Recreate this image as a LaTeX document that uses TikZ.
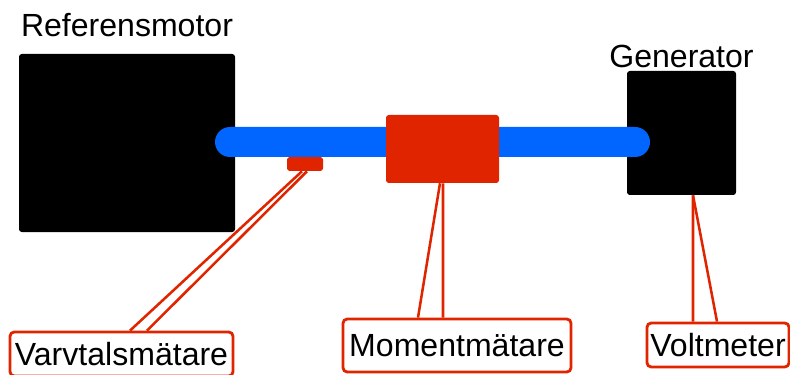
\documentclass[tikz,border=0pt]{standalone}
\usepackage{fontspec}
\setmainfont{Liberation Sans}
\usepackage{tikz}
\usetikzlibrary{positioning}
\definecolor{shaftblue}{RGB}{0,102,255}
\definecolor{partred}{RGB}{224,36,0}
\tikzset{machine/.style={fill=black, draw=none, rounded corners=2pt, inner sep=0pt}}
\tikzset{meter/.style={fill=partred, draw=none, rounded corners=2pt, inner sep=0pt}}
\tikzset{tag/.style={draw=partred, line width=2pt, fill=white, rounded corners=3pt, inner sep=0pt, font=\fontsize{22.8pt}{27pt}\selectfont}}
\tikzset{lead/.style={draw=partred, line width=1.8pt}}
\tikzset{title/.style={inner sep=0pt, font=\fontsize{22.8pt}{27pt}\selectfont}}

\begin{document}
\begin{tikzpicture}
\useasboundingbox (0,0) rectangle (19.75,9.35);
\node[machine, minimum width=5.4cm, minimum height=4.45cm] (motor) at (3.175,5.775) {};
\node[machine, minimum width=2.725cm, minimum height=3.1cm] (gen) at (17.0375,6.025) {};
\node[title, anchor=base] (motortext) at ([yshift=4.25mm]motor.north) {Referensmotor};
\node[title, anchor=base] (gentext) at ([yshift=0.75mm]gen.north) {Generator};
% axeln
\draw[shaftblue, line width=0.75cm, line cap=round] ([xshift=2.575cm,yshift=0.025cm]motor.center) -- ([xshift=-1.1625cm,yshift=-0.225cm]gen.center);
\node[meter, minimum width=2.825cm, minimum height=1.7cm] (moment) at (11.0625,5.625) {};
\node[meter, minimum width=0.9cm, minimum height=0.35cm] (varv) at (7.625,5.25) {};
% etiketter
\node[tag, minimum width=5.575cm, minimum height=1.1cm] (varvtag) at (3.0375,0.5) {Varvtalsmätare};
\node[tag, minimum width=5.7cm, minimum height=1.325cm] (momenttag) at (11.425,0.7125) {Momentmätare};
\node[tag, minimum width=3.55cm, minimum height=1.1cm] (volttag) at (17.95,0.725) {Voltmeter};
\draw[lead] ([xshift=-0.075cm]varv.south) -- ([xshift=0.2125cm]varvtag.north);
\draw[lead] ([xshift=0.05cm]varv.south) -- ([xshift=0.6375cm]varvtag.north);
\draw[lead] ([xshift=-0.0625cm]moment.south) -- ([xshift=-0.975cm]momenttag.north);
\draw[lead] ([xshift=0.0125cm]moment.south) -- ([xshift=-0.35cm]momenttag.north);
\draw[lead] ([xshift=0.2875cm]gen.south) -- ([xshift=-0.625cm]volttag.north);
\draw[lead] ([xshift=0.2875cm]gen.south) -- ([xshift=-0.025cm]volttag.north);
\end{tikzpicture}
\end{document}
